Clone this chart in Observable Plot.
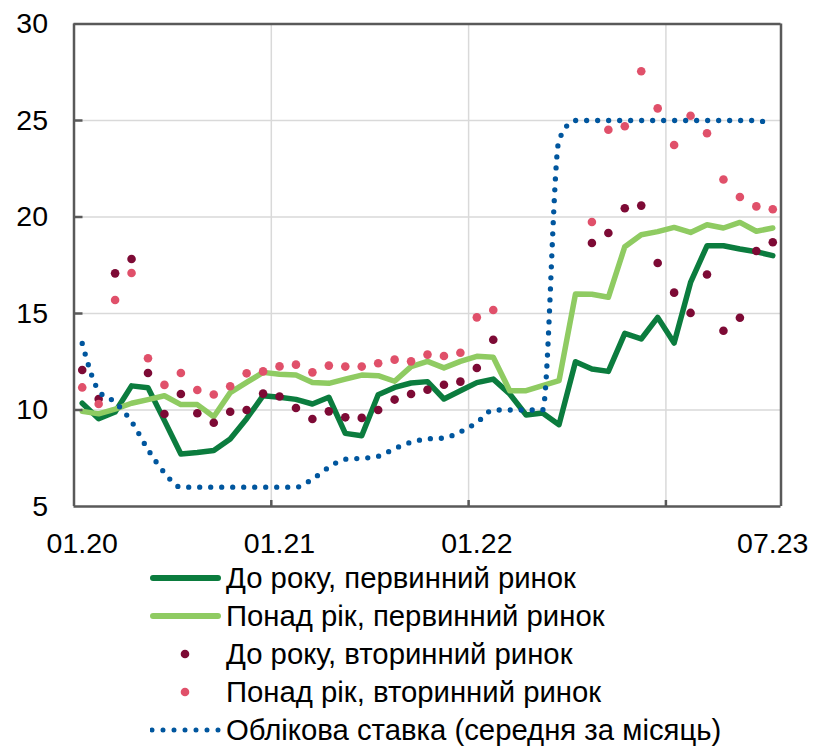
<!DOCTYPE html>
<html><head><meta charset="utf-8">
<script src="https://cdn.jsdelivr.net/npm/d3@7"></script>
<script src="https://cdn.jsdelivr.net/npm/@observablehq/plot@0.6"></script>
<style>
body{margin:0;background:#fff;font-family:"Liberation Sans",Arial,sans-serif;}
#wrap{position:relative;width:813px;height:746px;overflow:hidden;}
#chart svg{display:block;}
.item{position:absolute;left:150px;height:38px;display:flex;align-items:center;font-size:29.3px;color:#000;white-space:nowrap;}
.item svg{display:block;flex:none;}
</style></head><body><div id="wrap"><div id="chart"></div></div>
<script>
const months = ["01.20","02.20","03.20","04.20","05.20","06.20","07.20","08.20","09.20","10.20","11.20","12.20",
"01.21","02.21","03.21","04.21","05.21","06.21","07.21","08.21","09.21","10.21","11.21","12.21",
"01.22","02.22","03.22","04.22","05.22","06.22","07.22","08.22","09.22","10.22","11.22","12.22",
"01.23","02.23","03.23","04.23","05.23","06.23","07.23"];
const xLabels = ["01.20","01.21","01.22","07.23"];
const yearStarts = ["01.21","01.22","01.23"];
const yTicks = [5,10,15,20,25,30];

const seriesNames = ["До року, первинний ринок","Понад рік, первинний ринок","До року, вторинний ринок","Понад рік, вторинний ринок","Облікова ставка (середня за місяць)"];

const shortPrimary = [10.35,9.55,9.9,11.25,11.15,9.45,7.72,7.8,7.9,8.5,9.55,10.74,
10.66,10.55,10.31,10.66,8.79,8.67,10.79,11.17,11.4,11.47,10.57,11.0,
11.42,11.6,10.83,9.74,9.84,9.24,12.5,12.12,12.0,13.97,13.68,14.8,
13.47,16.61,18.51,18.51,18.34,18.2,18.0];
const longPrimary = [9.93,9.8,10.05,10.35,10.54,10.74,10.28,10.28,9.65,10.9,11.43,11.95,
11.85,11.81,11.43,11.38,11.6,11.81,11.78,11.49,12.25,12.52,12.18,12.52,
12.78,12.73,11.0,11.0,11.26,11.52,16.01,16.0,15.84,18.46,19.08,19.24,
19.46,19.2,19.6,19.43,19.72,19.26,19.43];
const shortSecondary = [12.07,10.57,17.08,17.82,11.92,9.79,10.83,9.83,9.34,9.91,10.0,10.85,
10.7,10.1,9.53,9.93,9.62,9.59,10.0,10.54,10.83,11.05,11.31,11.47,
12.18,13.64,null,null,null,null,null,18.65,19.17,20.45,20.59,17.62,
16.08,15.03,17.02,14.11,14.78,18.24,18.69];
const longSecondary = [11.17,10.31,15.7,17.1,12.68,11.3,11.92,11.04,10.8,11.23,11.9,12.0,
12.26,12.35,11.95,12.3,12.25,12.25,12.42,12.61,12.52,12.87,12.8,12.97,
14.8,15.18,null,null,null,null,null,19.74,24.52,24.7,27.55,25.63,
23.73,25.25,24.34,21.94,21.04,20.55,20.4];
const policyRate = [13.45,11.0,10.4,9.4,7.95,6.75,6.0,6.0,6.0,6.0,6.0,6.0,
6.0,6.0,6.42,7.03,7.45,7.5,7.6,8.0,8.33,8.5,8.55,8.87,
9.35,10.0,10.0,10.0,10.0,24.0,25.0,25.0,25.0,25.0,25.0,25.0,
25.0,25.0,25.0,25.0,25.0,25.0,24.75];

const C = {dg:"#0b7c3e", lg:"#8fcb62", dr:"#7d0a35", pk:"#e0506a", bl:"#00569e", frame:"#595959", grid:"#d9d9d9"};

const data = months.map((m,i)=>({i, m, dg:shortPrimary[i], lg:longPrimary[i], dr:shortSecondary[i], pk:longSecondary[i], bl:policyRate[i]}));
const bounds = yearStarts.map(m => months.indexOf(m) - 0.5);
const xLabelPos = xLabels.map(m => months.indexOf(m));
const yInner = yTicks.slice(1,-1);
const xDomain = [-0.5, months.length-0.5];
const yDomain = [yTicks[0], yTicks[yTicks.length-1]];

const W = 813, H = 560, ML = 73.5, MR = 32.5, MT = 23.5, MB = 54;
const FW = W - ML - MR, FH = H - MT - MB;

const chart = Plot.plot({
  width: W, height: H,
  marginLeft: ML, marginRight: MR, marginTop: MT, marginBottom: MB,
  x: {type:"linear", domain:xDomain, label:null},
  y: {domain:yDomain, label:null},
  style: {fontFamily:"'Liberation Sans', Arial, sans-serif", color:"#000", background:"#fff"},
  marks: [
    Plot.gridY(yInner, {stroke:C.grid, strokeOpacity:1, strokeWidth:1.5}),
    Plot.gridX(bounds, {stroke:C.grid, strokeOpacity:1, strokeWidth:1.5}),
    Plot.line(data, {x:"i", y:"dg", stroke:C.dg, strokeWidth:5.5, strokeLinejoin:"round"}),
    Plot.line(data, {x:"i", y:"lg", stroke:C.lg, strokeWidth:5.5, strokeLinejoin:"round"}),
    Plot.dot(data.filter(d=>d.dr!=null), {x:"i", y:"dr", r:4.3, fill:C.dr}),
    Plot.dot(data.filter(d=>d.pk!=null), {x:"i", y:"pk", r:4.3, fill:C.pk}),
    Plot.line(data, {x:"i", y:"bl", curve:"monotone-x", stroke:C.bl, strokeWidth:5.3, strokeDasharray:"0,11", strokeLinecap:"round"}),
    Plot.ruleX(xDomain, {stroke:C.frame, strokeWidth:2.5}),
    Plot.ruleY(yDomain, {stroke:C.frame, strokeWidth:2.5}),
    Plot.tickY(yInner, {y:d=>d, stroke:C.frame, strokeWidth:2.5, insetRight:FW-9}),
    Plot.tickX(bounds, {x:d=>d, stroke:C.frame, strokeWidth:2.5, insetTop:FH-6}),
    Plot.axisY(yTicks, {tickSize:0, tickPadding:26, fontSize:28.5, fill:"#000"}),
    Plot.axisX(xLabelPos, {tickSize:0, tickPadding:26, fontSize:28.5, fill:"#000", tickFormat:i=>months[i]})
  ]
});
document.getElementById("chart").appendChild(chart);

const wrap = d3.select("#wrap");
const kinds = [
  {type:"line", color:C.dg},
  {type:"line", color:C.lg},
  {type:"dot", color:C.dr},
  {type:"dot", color:C.pk},
  {type:"dots", color:C.bl}
];
seriesNames.forEach((name,k)=>{
  const item = wrap.append("div").attr("class","item").style("top", (559 + k*38) + "px");
  const sw = item.append("svg").attr("width",76).attr("height",38);
  const kd = kinds[k];
  if (kd.type==="line") sw.append("line").attr("x1",3).attr("x2",68).attr("y1",19).attr("y2",19).attr("stroke",kd.color).attr("stroke-width",6).attr("stroke-linecap","round");
  else if (kd.type==="dot") sw.append("circle").attr("cx",35).attr("cy",19).attr("r",4.3).attr("fill",kd.color);
  else sw.append("line").attr("x1",2).attr("x2",70).attr("y1",19).attr("y2",19).attr("stroke",kd.color).attr("stroke-width",5).attr("stroke-linecap","round").attr("stroke-dasharray","0,11");
  item.append("span").text(name);
});
</script></body></html>
